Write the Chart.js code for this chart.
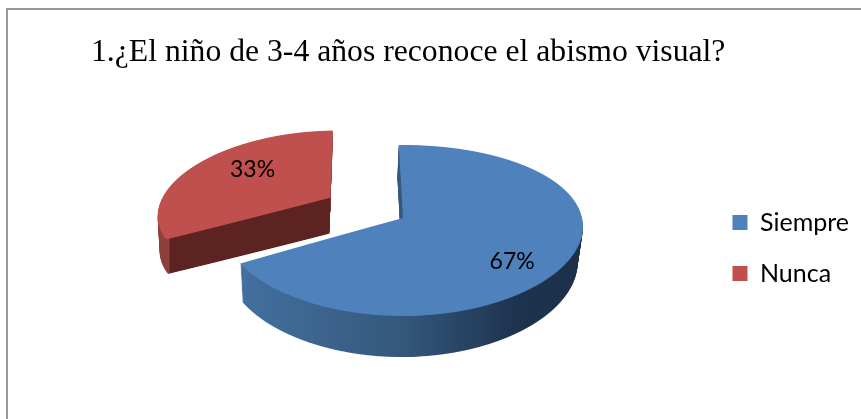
<!DOCTYPE html>
<html>
<head>
<meta charset="utf-8">
<script src="https://cdn.jsdelivr.net/npm/chart.js@4/dist/chart.umd.js"></script>
<style>
html,body{margin:0;padding:0;background:#fff;overflow:hidden}
#wrap{position:relative;width:861px;height:419px;overflow:hidden}
#frame{position:absolute;left:6px;top:8px;width:900px;height:500px;border:2px solid #999;box-sizing:border-box;pointer-events:none}
canvas{position:absolute;left:0;top:0}
</style>
</head>
<body>
<div id="wrap"><canvas id="c" width="861" height="419"></canvas><div id="frame"></div></div>
<script>
const titleText = "1.¿El niño de 3-4 años reconoce el abismo visual?";
const categories = ["Siempre", "Nunca"];
const percentValues = [67, 33];

// Styling
const sliceColors = ["#4f81bd", "#c0504d"];
const explode = [0, 83];
const stage = {x: 403, y: 218};
const explodeTilt = 0.505;
const sliceRadius = [179, 168];
const sliceA = [83.7, 76.8];     // vertical half-extent
const sliceP = [0.146, 0.146];   // vertical perspective
const sliceQ = [0.1, 0.2];       // horizontal perspective
const sliceShear = [0, -6];      // horizontal skew from back to front
const wallDepth = [36, 36];
const wallRadius = [175, 165];
const wallA = [88, 74];
const wallShift = [-1.5, -1];
const wallStops = [
  [[240,"#43709f"],[400,"#35587c"],[520,"#1d324d"],[585,"#1c304a"]],
  [[150,"#8f3f3b"],[169,"#8f3f3b"],[170,"#5c2321"],[330,"#5c2321"],[331,"#9a4441"],[340,"#9a4441"]]
];
const labelFrac = [0.675, 0.56];
const labelNudge = [15, -8];
const labelFont = "23px Lato";

function drawPlane(ctx, arc, g) {
  const rr = arc.outerRadius;
  const rowTop = Math.floor(g.y0 - g.a / (1 + g.p)) - 2;
  const rowBot = Math.ceil(g.y0 + g.a / (1 - g.p)) + 2;
  for (let y = rowTop; y <= rowBot; y++) {
    const v = y + 0.5 - g.y0;
    const denom = g.a + g.p * v;
    const Y = v / denom;
    const dYdy = g.a / (denom * denom);
    const sx = g.r / (1 - g.q * Y) / rr;
    const sy = 1 / (dYdy * rr);
    ctx.save();
    ctx.beginPath();
    ctx.rect(0, y, 861, 1);
    ctx.clip();
    ctx.translate(g.x0 + g.shear * Y, y + 0.5);
    ctx.scale(sx, sy);
    ctx.translate(-arc.x, -arc.y - Y * rr);
    arc.draw(ctx);
    ctx.restore();
  }
}

const pie3d = {
  id: "pie3d",
  beforeDatasetsDraw(chart) {
    const ctx = chart.ctx;
    const arcs = chart.getDatasetMeta(0).data;
    const off = document.createElement("canvas");
    off.width = 861; off.height = 419;
    const oc = off.getContext("2d");
    const placed = [];
    arcs.forEach((arc, i) => {
      const mid = (arc.startAngle + arc.endAngle) / 2;
      placed[i] = {
        x: stage.x + Math.cos(mid) * explode[i],
        y: stage.y + Math.sin(mid) * explode[i] * explodeTilt,
        mid
      };
    });
    [1, 0].forEach(i => {
      const arc = arcs[i], base = placed[i];
      // side walls
      oc.clearRect(0, 0, 861, 419);
      oc.globalCompositeOperation = "source-over";
      const saved = arc.options;
      arc.options = Object.assign({}, saved, {backgroundColor: "#000"});
      for (let d = wallDepth[i]; d >= 1; d -= 1) {
        const t = d / wallDepth[i];
        drawPlane(oc, arc, {
          x0: base.x + wallShift[i] * t,
          y0: base.y + d,
          a: sliceA[i] + (wallA[i] - sliceA[i]) * t,
          p: sliceP[i],
          q: sliceQ[i],
          shear: sliceShear[i],
          r: sliceRadius[i] + (wallRadius[i] - sliceRadius[i]) * t
        });
      }
      oc.globalCompositeOperation = "source-in";
      const stops = wallStops[i];
      const x0 = stops[0][0], x1 = stops[stops.length - 1][0];
      const grad = oc.createLinearGradient(x0, 0, x1, 0);
      stops.forEach(s => grad.addColorStop((s[0] - x0) / (x1 - x0), s[1]));
      oc.fillStyle = grad;
      oc.fillRect(0, 0, 861, 419);
      ctx.drawImage(off, 0, 0);
      arc.options = saved;
      // top surface
      drawPlane(ctx, arc, {x0: base.x, y0: base.y, a: sliceA[i], p: sliceP[i], q: sliceQ[i], shear: sliceShear[i], r: sliceRadius[i]});
    });
    // percentage labels
    ctx.save();
    ctx.font = labelFont;
    ctx.fillStyle = "#000";
    ctx.textAlign = "center";
    ctx.textBaseline = "middle";
    const total = percentValues.reduce((a, b) => a + b, 0);
    arcs.forEach((arc, i) => {
      const base = placed[i];
      const X = Math.cos(base.mid) * labelFrac[i];
      const Y = Math.sin(base.mid) * labelFrac[i];
      const px = base.x + sliceRadius[i] * X / (1 - sliceQ[i] * Y);
      const py = base.y + sliceA[i] * Y / (1 - sliceP[i] * Y) + labelNudge[i];
      ctx.fillText(Math.round(percentValues[i] / total * 100) + "%", px, py);
    });
    ctx.restore();
    return false;
  }
};

new Chart(document.getElementById("c"), {
  type: "pie",
  data: {
    labels: categories,
    datasets: [{data: percentValues, backgroundColor: sliceColors, borderWidth: 0}]
  },
  options: {
    responsive: false,
    animation: false,
    events: [],
    rotation: -1.5,
    radius: 178,
    layout: {padding: {left: 91, right: 2, top: 0, bottom: 0}},
    plugins: {
      tooltip: {enabled: false},
      title: {
        display: true,
        text: titleText,
        align: "start",
        color: "#000",
        font: {family: "'Liberation Serif'", size: 31.7, weight: "normal"},
        padding: {top: 34, bottom: 5}
      },
      legend: {
        position: "right",
        fullSize: false,
        labels: {
          color: "#000",
          font: {family: "Lato", size: 25},
          boxWidth: 15,
          boxHeight: 15,
          padding: 26
        }
      }
    }
  },
  plugins: [pie3d]
});
</script>
</body>
</html>
